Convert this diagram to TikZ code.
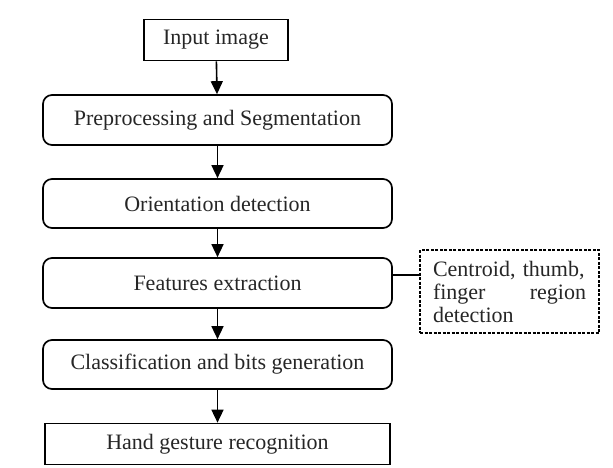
\documentclass[tikz,border=0pt]{standalone}
\usepackage{fontspec}
\setmainfont{Liberation Serif}
\usetikzlibrary{arrows.meta, positioning}

\begin{document}
\begin{tikzpicture}[x=1pt,y=-1pt,node distance=81pt,on grid,>={Triangle[width=12pt,length=13pt]},
      every node/.style={font=\fontsize{22}{23}\selectfont, text=black!85},
      stage/.style={draw, line width=1.7pt, minimum width=349pt, minimum height=50pt, rounded corners=9pt},
      endbox/.style={draw, line width=1.7pt, minimum height=41pt},
      sidebox/.style={draw, line width=1.6pt, dash pattern=on 3pt off 1.5pt, minimum width=179pt,
        minimum height=83pt, text width=153pt, align=left, inner sep=0pt}]
      \useasboundingbox (0,0) rectangle (613,467);
      \node[endbox, minimum width=144pt] (inp) at (216,40) {Input image};
      \node[stage] (pre) at (217.5,120) {Preprocessing and Segmentation};
      \node[stage, minimum height=49pt] (ori) [below=83.5pt of pre] {Orientation detection};
      \node[stage] (feat) [below=79.5pt of ori] {Features extraction};
      \node[stage, minimum height=49pt] (cls) [below=81.5pt of feat] {Classification and bits generation};
      \node[endbox, minimum width=345pt] (hand) [below=79.5pt of cls] {Hand gesture recognition};
      \node[sidebox] (cent) at (509.5,291.5) {\mbox{Centroid, thumb,}\\ \makebox[\linewidth][l]{finger\hfill region}\\ detection};
      \coordinate (lk) at ([yshift=8pt]feat.east);
      \path[->, line width=1.6pt]
      (inp) edge (pre)
      (pre) edge (ori)
      (ori) edge (feat)
      (feat) edge (cls)
      (cls) edge (hand);
      \draw[line width=1.6pt] (lk) -- (lk -| cent.west);
    \end{tikzpicture}
\end{document}
